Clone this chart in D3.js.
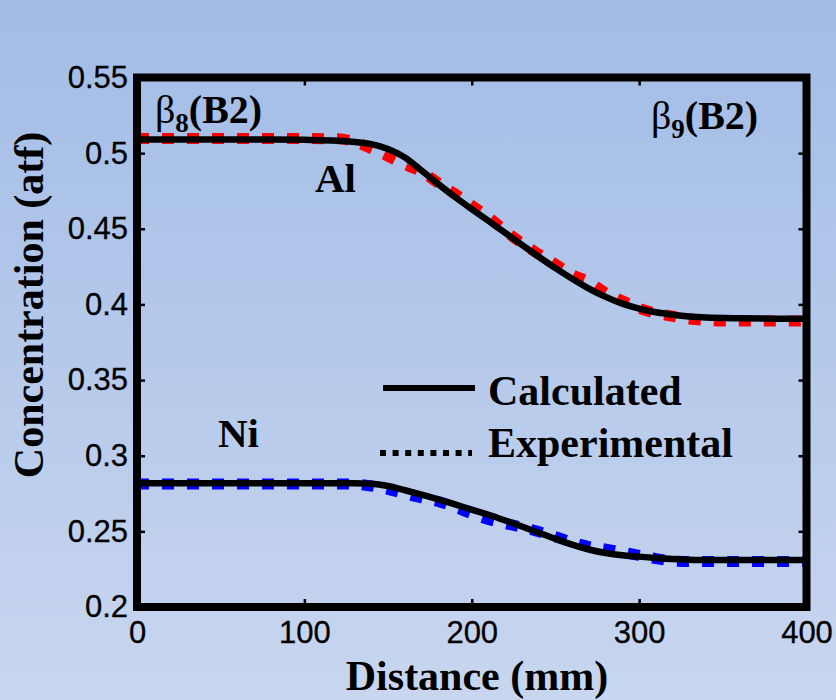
<!DOCTYPE html>
<html>
<head>
<meta charset="utf-8">
<script src="https://cdn.jsdelivr.net/npm/d3@7"></script>
<style>
  html, body { margin: 0; padding: 0; background: #b4c8ea; }
  svg { display: block; }
</style>
</head>
<body>
<svg id="chart" width="836" height="700"></svg>
<script>
// ---- data ----
const distCalc = [0, 40, 80, 100, 120, 130, 140, 150, 160, 170, 180, 190, 200, 210, 220, 230, 240, 250, 260, 270, 280, 290, 300, 310, 320, 330, 340, 360, 380, 400];
const alCalc   = [0.509, 0.509, 0.509, 0.5088, 0.5082, 0.5074, 0.5060, 0.5028, 0.4972, 0.4885, 0.4795, 0.4710, 0.4630, 0.4552, 0.4473, 0.4393, 0.4315, 0.4240, 0.4170, 0.4105, 0.4050, 0.4005, 0.3972, 0.3948, 0.3932, 0.3920, 0.3913, 0.3908, 0.3906, 0.3905];
const niCalc   = [0.2818, 0.2818, 0.2818, 0.2818, 0.2818, 0.2818, 0.2815, 0.2800, 0.2772, 0.2743, 0.2712, 0.2678, 0.2644, 0.2610, 0.2572, 0.2532, 0.2491, 0.2450, 0.2412, 0.2380, 0.2357, 0.2342, 0.2333, 0.2324, 0.2317, 0.2313, 0.2311, 0.2311, 0.2311, 0.2311];

const distExp = [0, 40, 80, 120, 130, 140, 150, 160, 170, 180, 190, 200, 210, 220, 230, 240, 250, 260, 270, 280, 290, 300, 310, 320, 330, 340, 350, 380, 400];
const alExp   = [0.5097, 0.5097, 0.5097, 0.5095, 0.5075, 0.5030, 0.4980, 0.4925, 0.4878, 0.4802, 0.4731, 0.4654, 0.4576, 0.4486, 0.4404, 0.4333, 0.4266, 0.4196, 0.4149, 0.4076, 0.4024, 0.3975, 0.3942, 0.3922, 0.3904, 0.3895, 0.3890, 0.3890, 0.3890];
const niExp   = [0.2813, 0.2813, 0.2813, 0.2813, 0.2812, 0.2800, 0.2778, 0.2748, 0.2722, 0.2697, 0.2660, 0.2616, 0.2578, 0.2552, 0.2527, 0.2498, 0.2465, 0.2428, 0.2399, 0.2382, 0.2362, 0.2341, 0.2320, 0.2305, 0.2300, 0.2300, 0.2300, 0.2300, 0.2300];

const xTicks = [0, 100, 200, 300, 400];
const xTickLabels = ["0", "100", "200", "300", "400"];
const yTicks = [0.2, 0.25, 0.3, 0.35, 0.4, 0.45, 0.5, 0.55];
const yTickLabels = ["0.2", "0.25", "0.3", "0.35", "0.4", "0.45", "0.5", "0.55"];

const legendLabels = ["Calculated", "Experimental"];

// ---- drawing ----
const svg = d3.select("#chart");
const W = 836, H = 700;

const defs = svg.append("defs");
const grad = defs.append("linearGradient").attr("id", "bg").attr("x1", 0).attr("y1", 0).attr("x2", 0).attr("y2", 1);
grad.append("stop").attr("offset", "0%").attr("stop-color", "#a2bce6");
grad.append("stop").attr("offset", "100%").attr("stop-color", "#c8d6ef");
svg.append("rect").attr("width", W).attr("height", H).attr("fill", "url(#bg)");

const x = d3.scaleLinear().domain([0, 400]).range([137, 806.5]);
const y = d3.scaleLinear().domain([0.2, 0.55]).range([607, 77.5]);

const line = d3.line().x(d => x(d[0])).y(d => y(d[1])).curve(d3.curveMonotoneX);

const zip = (a, b) => a.map((v, i) => [v, b[i]]);

// experimental (dashed, coloured) first so calculated sits on top
svg.append("path").datum(zip(distExp, alExp))
  .attr("d", line).attr("fill", "none").attr("stroke", "#ff0000")
  .attr("stroke-width", 11).attr("stroke-dasharray", "12,13");
svg.append("path").datum(zip(distExp, niExp))
  .attr("d", line).attr("fill", "none").attr("stroke", "#0000ff")
  .attr("stroke-width", 11).attr("stroke-dasharray", "12,13");

svg.append("path").datum(zip(distCalc, alCalc))
  .attr("d", line).attr("fill", "none").attr("stroke", "#000")
  .attr("stroke-width", 6.5).attr("stroke-linejoin", "round");
svg.append("path").datum(zip(distCalc, niCalc))
  .attr("d", line).attr("fill", "none").attr("stroke", "#000")
  .attr("stroke-width", 6.5).attr("stroke-linejoin", "round");

// axes (ticks inward)
const tickFont = "'Liberation Sans', Arial, sans-serif";
const yAxis = d3.axisLeft(y).tickValues(yTicks).tickFormat((d, i) => yTickLabels[i]).tickSizeInner(-8).tickSizeOuter(0).tickPadding(9);
const xAxis = d3.axisBottom(x).tickValues(xTicks).tickFormat((d, i) => xTickLabels[i]).tickSizeInner(-8).tickSizeOuter(0).tickPadding(14);
const yR = d3.axisRight(y).tickValues(yTicks).tickFormat("").tickSizeInner(-8).tickSizeOuter(0);
const xT = d3.axisTop(x).tickValues(xTicks).tickFormat("").tickSizeInner(-8).tickSizeOuter(0);

function styleAxis(g) {
  g.select(".domain").remove();
  g.selectAll(".tick line").attr("stroke", "#000").attr("stroke-width", 2.5);
  g.selectAll(".tick text").attr("fill", "#000").attr("stroke", "#000").attr("stroke-width", 0.3)
    .style("font-family", tickFont).style("font-size", "31px");
}
svg.append("g").attr("transform", `translate(${x(0)},0)`).call(yAxis).call(styleAxis);
svg.append("g").attr("transform", `translate(0,${y(0.2)})`).call(xAxis).call(styleAxis);
svg.append("g").attr("transform", `translate(${x(400)},0)`).call(yR).call(styleAxis);
svg.append("g").attr("transform", `translate(0,${y(0.55)})`).call(xT).call(styleAxis);

// frame
svg.append("rect")
  .attr("x", x(0)).attr("y", y(0.55))
  .attr("width", x(400) - x(0)).attr("height", y(0.2) - y(0.55))
  .attr("fill", "none").attr("stroke", "#000").attr("stroke-width", 8);

// axis titles
const serif = "'Liberation Serif', 'Times New Roman', serif";
svg.append("text").attr("x", 477).attr("y", 690).attr("text-anchor", "middle")
  .style("font-family", serif).style("font-weight", "bold").style("font-size", "42px")
  .text("Distance (mm)");
svg.append("text").attr("transform", "translate(43,305) rotate(-90)").attr("text-anchor", "middle")
  .style("font-family", serif).style("font-weight", "bold").style("font-size", "42px")
  .text("Concentration (atf)");

// phase labels
function phaseLabel(px, py, sub) {
  const t = svg.append("text").attr("x", px).attr("y", py)
    .style("font-family", serif).style("font-size", "40px");
  t.append("tspan").text("β");
  t.append("tspan").attr("dy", 9).style("font-size", "27px").style("font-weight", "bold").text(sub);
  t.append("tspan").attr("dy", -9).style("font-weight", "bold").text("(B2)");
}
phaseLabel(155, 123, "8");
phaseLabel(651, 129, "9");

// element labels
svg.append("text").attr("x", 315).attr("y", 192)
  .style("font-family", serif).style("font-weight", "bold").style("font-size", "41px").text("Al");
svg.append("text").attr("x", 218).attr("y", 447)
  .style("font-family", serif).style("font-weight", "bold").style("font-size", "41px").text("Ni");

// legend
svg.append("line").attr("x1", 383).attr("x2", 475).attr("y1", 388).attr("y2", 388)
  .attr("stroke", "#000").attr("stroke-width", 6);
svg.append("line").attr("x1", 380).attr("x2", 472).attr("y1", 453).attr("y2", 453)
  .attr("stroke", "#000").attr("stroke-width", 6).attr("stroke-dasharray", "6,6.6");
svg.append("text").attr("x", 488).attr("y", 405)
  .style("font-family", serif).style("font-weight", "bold").style("font-size", "42px").text(legendLabels[0]);
svg.append("text").attr("x", 488).attr("y", 457)
  .style("font-family", serif).style("font-weight", "bold").style("font-size", "42px").text(legendLabels[1]);
</script>
</body>
</html>
